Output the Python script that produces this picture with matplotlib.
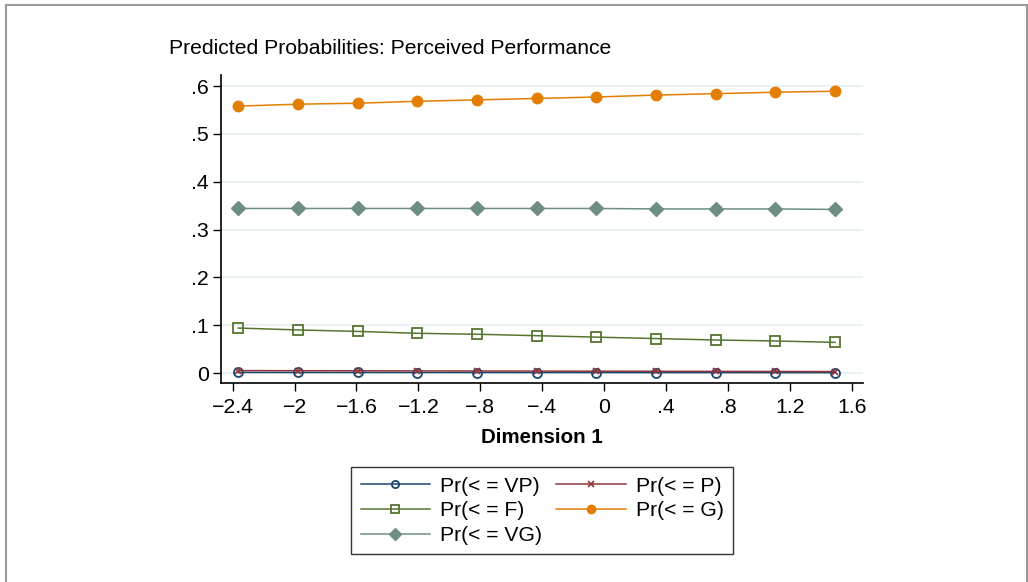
import matplotlib
matplotlib.use("Agg")
import matplotlib.pyplot as plt
from matplotlib.lines import Line2D

plt.rcParams['font.family'] = ['Liberation Sans', 'DejaVu Sans']

# ---- data ----
dim1 = [-2.364, -1.978, -1.593, -1.207, -0.821, -0.436, -0.050, 0.336, 0.721, 1.107, 1.492]
pr_vp = [0.0012, 0.0011, 0.0011, 0.0010, 0.0010, 0.0009, 0.0009, 0.0008, 0.0008, 0.0007, 0.0007]
pr_p = [0.0050, 0.0048, 0.0046, 0.0044, 0.0042, 0.0040, 0.0038, 0.0036, 0.0034, 0.0032, 0.0030]
pr_f = [0.094, 0.090, 0.087, 0.083, 0.081, 0.078, 0.075, 0.072, 0.069, 0.067, 0.064]
pr_g = [0.558, 0.562, 0.564, 0.568, 0.571, 0.574, 0.577, 0.581, 0.584, 0.587, 0.589]
pr_vg = [0.344, 0.344, 0.344, 0.344, 0.344, 0.344, 0.344, 0.343, 0.343, 0.343, 0.342]

series_labels = ["Pr(< = VP)", "Pr(< = P)", "Pr(< = F)", "Pr(< = G)", "Pr(< = VG)"]
xticks = [-2.4, -2.0, -1.6, -1.2, -0.8, -0.4, 0.0, 0.4, 0.8, 1.2, 1.6]
xtick_labels = ["\u22122.4", "\u22122", "\u22121.6", "\u22121.2", "\u2212.8", "\u2212.4", "0", ".4", ".8", "1.2", "1.6"]
yticks = [0.0, 0.1, 0.2, 0.3, 0.4, 0.5, 0.6]
ytick_labels = ["0", ".1", ".2", ".3", ".4", ".5", ".6"]

title = "Predicted Probabilities: Perceived Performance"
xlabel = "Dimension 1"

# ---- styles ----
c_vp = "#1a476f"
c_p = "#90353b"
c_f = "#55752f"
c_g = "#e37e00"
c_vg = "#6e8e84"

W, H = 1028, 582
fig = plt.figure(figsize=(W / 100, H / 100), dpi=100)
ax = fig.add_axes([221 / W, 1 - 383 / H, (863 - 221) / W, (383 - 75) / H])

lw = 1.1
h_vp, = ax.plot(dim1, pr_vp, color=c_vp, lw=lw, marker='o', ms=6.5, mfc='none', mec=c_vp, mew=1.3, zorder=3)
h_p, = ax.plot(dim1, pr_p, color=c_p, lw=lw, marker='x', ms=5, mec=c_p, mew=1.2, zorder=3)
h_f, = ax.plot(dim1, pr_f, color=c_f, lw=lw, marker='s', ms=7.5, mfc='none', mec=c_f, mew=1.3, zorder=3)
h_g, = ax.plot(dim1, pr_g, color=c_g, lw=lw, marker='o', ms=7.5, mfc=c_g, mec=c_g, zorder=3)
h_vg, = ax.plot(dim1, pr_vg, color=c_vg, lw=lw, marker='D', ms=7.5, mfc=c_vg, mec=c_vg, zorder=3)

ax.set_xlim(-2.4756, 1.673)
ax.set_ylim(-0.0209, 0.623)
ax.set_xticks(xticks)
ax.set_xticklabels(xtick_labels)
ax.set_yticks(yticks)
ax.set_yticklabels(ytick_labels)
ax.yaxis.grid(True, color="#e6eff1", lw=1.2)
ax.set_axisbelow(True)
for s in ['top', 'right']:
    ax.spines[s].set_visible(False)
for s in ['left', 'bottom']:
    ax.spines[s].set_linewidth(1.2)
ax.tick_params(axis='both', direction='out', length=6, width=1.0, labelsize=15.3)
ax.tick_params(axis='x', pad=5)
ax.tick_params(axis='y', pad=3)
ax.set_xlabel(xlabel, fontsize=14.8, fontweight='bold', labelpad=8)

fig.text(169 / W, 1 - 49 / H, title, fontsize=15.2, ha='left', va='center')

handles = [h_vp, h_f, h_vg, h_p, h_g]
labels = [series_labels[0], series_labels[2], series_labels[4], series_labels[1], series_labels[3]]
leg = fig.legend(handles, labels, loc='upper center', bbox_to_anchor=(542 / W, 1 - 467 / H),
                 ncol=2, fontsize=15.2, frameon=True, fancybox=False, edgecolor='black',
                 handlelength=3.3, handletextpad=0.47, columnspacing=0.65, labelspacing=0.27,
                 borderpad=0.45, borderaxespad=0, markerscale=0.8)
leg.get_frame().set_linewidth(1.0)

# outer frame
fig.add_artist(Line2D([6 / W, 6 / W], [0, 1 - 5 / H], transform=fig.transFigure, color="#9a9a9a", lw=1.5))
fig.add_artist(Line2D([1026.5 / W, 1026.5 / W], [0, 1 - 5 / H], transform=fig.transFigure, color="#9a9a9a", lw=1.5))
fig.add_artist(Line2D([6 / W, 1026.5 / W], [1 - 5 / H, 1 - 5 / H], transform=fig.transFigure, color="#9a9a9a", lw=1.5))

fig.savefig("out.png", dpi=100)
